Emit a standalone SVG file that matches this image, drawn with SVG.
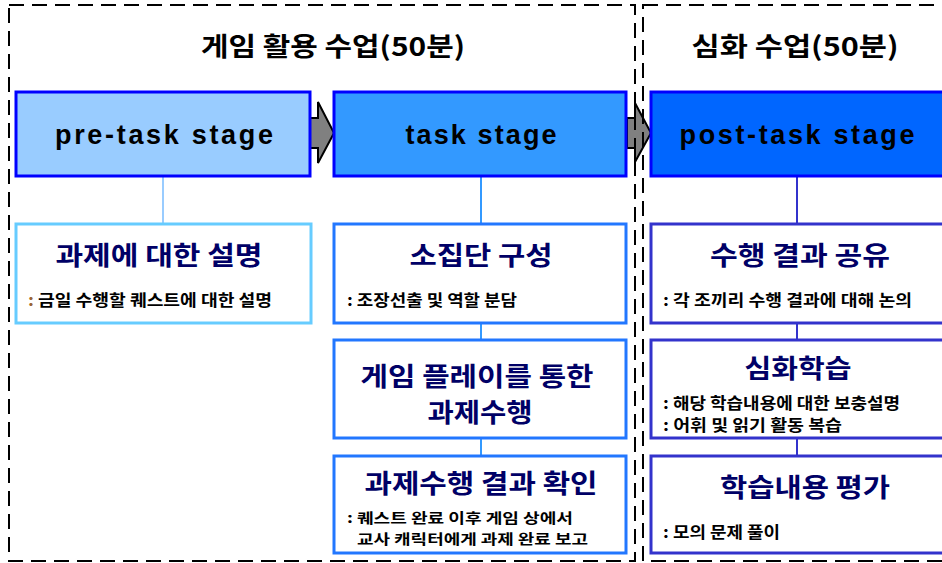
<svg xmlns="http://www.w3.org/2000/svg" width="942" height="563" viewBox="0 0 942 563">
<style>
.frame{fill:none;stroke:#000;stroke-width:2;stroke-dasharray:15 8}
.stage{stroke:#0000FF;stroke-width:3}
.stxt{font-family:"Liberation Sans","Noto Sans CJK KR",sans-serif;font-weight:bold;font-size:27px;fill:#000;text-anchor:middle}
.hdr{font-family:"Noto Sans CJK KR",sans-serif;font-weight:bold;font-size:26px;fill:#000;text-anchor:middle}
.box{fill:#fff;stroke-width:3}
.b1{stroke:#66CCFF}
.b2{stroke:#2277FF}
.b3{stroke:#3333CC}
.ttl{font-family:"Noto Sans CJK KR",sans-serif;font-weight:bold;font-size:26px;fill:#000066;text-anchor:middle}
.sub{font-family:"Noto Sans CJK KR",sans-serif;font-weight:bold;font-size:16px;fill:#000}
.sm{font-size:14px}
.arr{fill:#808080;stroke:#000;stroke-width:2;stroke-linejoin:miter}
.c1{stroke:#99CCFF;stroke-width:2}
.c2{stroke:#3399FF;stroke-width:2}
.c3{stroke:#3333CC;stroke-width:2}
</style>
<rect width="942" height="563" fill="#fff"/>
<g id="connectors">
<line class="c1" x1="163" y1="177" x2="163" y2="224"/>
<line class="c2" x1="481" y1="177" x2="481" y2="224"/>
<line class="c2" x1="481" y1="323" x2="481" y2="340"/>
<line class="c2" x1="481" y1="438" x2="481" y2="456"/>
<line class="c3" x1="797" y1="177" x2="797" y2="224"/>
<line class="c3" x1="797" y1="323" x2="797" y2="340"/>
<line class="c3" x1="797" y1="438" x2="797" y2="456"/>
<polygon class="arr" points="310,118 318,118 318,102 334,133 318,163 318,148 310,148"/>
<polygon class="arr" points="627,118 635,118 635,103 651,133 635,162 635,148 627,148"/>
</g>
<g id="pre-task">
<rect class="stage" x="16" y="92" width="294" height="84" fill="#99CCFF"/>
<text class="stxt" x="164" y="144" textLength="218">pre-task stage</text>
</g>
<g id="task">
<rect class="stage" x="334" y="92" width="292" height="84" fill="#3399FF"/>
<text class="stxt" x="481" y="144" textLength="151">task stage</text>
</g>
<g id="post-task">
<rect class="stage" x="651" y="92" width="300" height="84" fill="#0066FF"/>
<text class="stxt" x="797" y="144" textLength="235">post-task stage</text>
</g>
<g id="explain">
<rect class="box b1" x="16" y="224" width="295" height="99"/>
<text class="ttl" x="159" y="265" textLength="207" lengthAdjust="spacingAndGlyphs">과제에 대한 설명</text>
<text class="sub" x="28" y="306" textLength="244" lengthAdjust="spacingAndGlyphs"><tspan fill="#996633">:</tspan> 금일 수행할 퀘스트에 대한 설명</text>
</g>
<g id="group">
<rect class="box b2" x="334" y="224" width="292" height="99"/>
<text class="ttl" x="481" y="265" textLength="143" lengthAdjust="spacingAndGlyphs">소집단 구성</text>
<text class="sub" x="347" y="306" textLength="170" lengthAdjust="spacingAndGlyphs">: 조장선출 및 역할 분담</text>
</g>
<g id="play">
<rect class="box b2" x="334" y="340" width="292" height="98"/>
<text class="ttl" x="477" y="386" textLength="233" lengthAdjust="spacingAndGlyphs">게임 플레이를 통한</text>
<text class="ttl" x="480" y="422" textLength="105" lengthAdjust="spacingAndGlyphs">과제수행</text>
</g>
<g id="check">
<rect class="box b2" x="334" y="456" width="292" height="97"/>
<text class="ttl" x="481" y="493" textLength="233" lengthAdjust="spacingAndGlyphs">과제수행 결과 확인</text>
<text class="sub sm" x="347" y="523" textLength="226" lengthAdjust="spacingAndGlyphs">: 퀘스트 완료 이후 게임 상에서</text>
<text class="sub sm" x="357" y="544" textLength="231" lengthAdjust="spacingAndGlyphs">교사 캐릭터에게 과제 완료 보고</text>
</g>
<g id="share">
<rect class="box b3" x="651" y="224" width="300" height="99"/>
<text class="ttl" x="800" y="265" textLength="180" lengthAdjust="spacingAndGlyphs">수행 결과 공유</text>
<text class="sub" x="663" y="306" textLength="249" lengthAdjust="spacingAndGlyphs">: 각 조끼리 수행 결과에 대해 논의</text>
</g>
<g id="deep">
<rect class="box b3" x="651" y="340" width="300" height="98"/>
<text class="ttl" x="798" y="378" textLength="107" lengthAdjust="spacingAndGlyphs">심화학습</text>
<text class="sub" x="663" y="409" textLength="237" lengthAdjust="spacingAndGlyphs">: 해당 학습내용에 대한 보충설명</text>
<text class="sub" x="663" y="431" textLength="179" lengthAdjust="spacingAndGlyphs">: 어휘 및 읽기 활동 복습</text>
</g>
<g id="eval">
<rect class="box b3" x="651" y="456" width="300" height="97"/>
<text class="ttl" x="805" y="497" textLength="170" lengthAdjust="spacingAndGlyphs">학습내용 평가</text>
<text class="sub" x="663" y="538" textLength="117" lengthAdjust="spacingAndGlyphs">: 모의 문제 풀이</text>
</g>
<g id="frames">
<rect class="frame" x="9" y="5" width="626" height="556"/>
<rect class="frame" x="643" y="5" width="320" height="556"/>
<text class="hdr" x="333" y="56" textLength="264" lengthAdjust="spacingAndGlyphs">게임 활용 수업(50분)</text>
<text class="hdr" x="795" y="56" textLength="207" lengthAdjust="spacingAndGlyphs">심화 수업(50분)</text>
</g>
</svg>
